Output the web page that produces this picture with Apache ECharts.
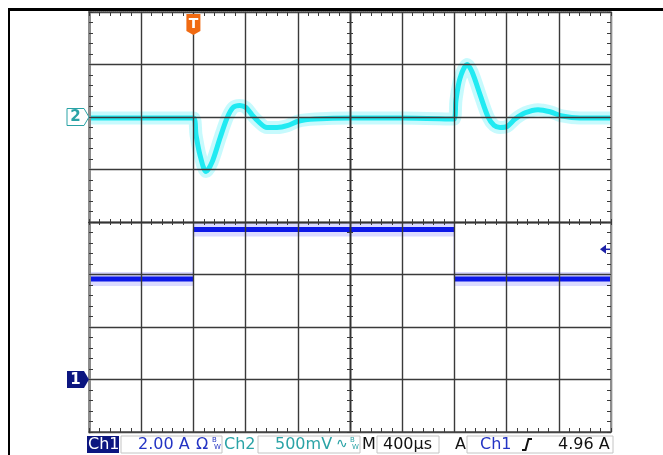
<!DOCTYPE html>
<html>
<head>
<meta charset="utf-8">
<script src="https://cdn.jsdelivr.net/npm/echarts@6/dist/echarts.min.js"></script>
<style>
  html, body { margin: 0; padding: 0; background: #fff; }
  #scope { width: 663px; height: 455px; }
</style>
</head>
<body>
<div id="scope"></div>
<script>
// Channel 2 (voltage, 500 mV/div): time in µs relative to trigger, value in V
const ch2Times = [-800, 0, 20, 50, 97, 143, 204, 258, 304, 357,
                  403, 449, 495, 564, 641, 725, 802, 932, 1200, 1600,
                  1997, 2012, 2043, 2097, 2135, 2197, 2258, 2304, 2350, 2404,
                  2465, 2542, 2641, 2733, 2825, 2963, 3200];
const ch2Volts = [-0.01, -0.01, -0.17, -0.36, -0.52, -0.43, -0.20, -0.01, 0.09, 0.11,
                  0.09, 0.02, -0.04, -0.10, -0.10, -0.08, -0.04, -0.02, -0.01, -0.01,
                  -0.02, 0.16, 0.37, 0.50, 0.43, 0.21, 0.00, -0.08, -0.10, -0.09,
                  -0.02, 0.04, 0.07, 0.05, 0.01, -0.01, -0.01];

// Channel 1 (current, 2.00 A/div): step pulse
const ch1Times = [-800, 0, 0, 2000, 2000, 3200];
const ch1Amps  = [3.83, 3.83, 5.71, 5.71, 3.83, 3.83];

// Trigger settings
const triggerTime = 0;      // µs
const triggerLevel = 4.96;  // A

// Status bar readouts
const ch1Scale = '2.00 A';
const ch2Scale = '500mV';
const timeScale = '400\u00b5s';
const trigReadout = '4.96 A';

const FONT = '"DejaVu Sans", "Liberation Sans", sans-serif';
const NAVY = '#0c1680';
const TEAL = '#2aa3a6';
const BLUE = '#2434c4';

const ch2Data = ch2Times.map((t, i) => [t, ch2Volts[i]]);
const ch1Full = ch1Times.map((t, i) => [t, ch1Amps[i]]);
// flat levels only: break the line where the step jumps
const ch1Levels = [];
ch1Times.forEach((t, i) => {
  if (i > 0 && t === ch1Times[i - 1]) ch1Levels.push([t, '-']);
  ch1Levels.push([t, ch1Amps[i]]);
});

const tickStyle = { color: '#3a3a3a', width: 1 };
function frameX(position, extra) {
  return Object.assign({
    type: 'value', min: -800, max: 3200, interval: 400, position: position, z: 3,
    axisLabel: { show: false },
    axisTick: { show: true, inside: true, length: 4, lineStyle: tickStyle },
    minorTick: { show: true, splitNumber: 5, length: 4, lineStyle: tickStyle },
    splitLine: { show: false }
  }, extra);
}
function frameY(position, min, max, interval, extra) {
  return Object.assign({
    type: 'value', min: min, max: max, interval: interval, position: position, z: 3,
    axisLabel: { show: false },
    axisTick: { show: true, inside: true, length: 4, lineStyle: tickStyle },
    minorTick: { show: true, splitNumber: 5, length: 4, lineStyle: tickStyle },
    splitLine: { show: false }
  }, extra);
}

const chart = echarts.init(document.getElementById('scope'), null, { renderer: 'canvas' });

chart.setOption({
  animation: false,
  backgroundColor: '#ffffff',
  grid: { left: 89, top: 12, width: 522, height: 420, containLabel: false },
  xAxis: [
    frameX('bottom', {
      axisLine: { onZero: false, lineStyle: { color: '#4a4a4a', width: 1.5 } },
      splitLine: { show: true, lineStyle: { color: '#3a3a3a', width: 1.4 } }
    }),
    frameX('top', {
      axisLine: { onZero: false, lineStyle: { color: '#4a4a4a', width: 1.5, type: [1, 1] } }
    }),
    // centre horizontal graticule line, ticks both sides
    frameX('bottom', {
      axisLine: { onZero: true, onZeroAxisIndex: 2, lineStyle: { color: '#333', width: 1.4 } },
      axisTick: { show: true, inside: true, length: 3, lineStyle: tickStyle },
      minorTick: { show: true, splitNumber: 5, length: 3, lineStyle: tickStyle }
    }),
    frameX('bottom', {
      axisLine: { onZero: true, onZeroAxisIndex: 2, lineStyle: { color: '#333', width: 1.4 } },
      axisTick: { show: true, inside: false, length: 3, lineStyle: tickStyle },
      minorTick: { show: true, splitNumber: 5, length: 3, lineStyle: tickStyle }
    }),
    { type: 'value', min: -5, max: 5, show: false }
  ],
  yAxis: [
    frameY('left', -3, 1, 0.5, {
      axisLine: { onZero: false, lineStyle: { color: '#8c8c8c', width: 3 } },
      splitLine: { show: true, lineStyle: { color: '#3a3a3a', width: 1.4 } }
    }),
    frameY('right', -2, 14, 2, {
      axisLine: { onZero: false, lineStyle: { color: '#8c8c8c', width: 2 } }
    }),
    { type: 'value', min: -4, max: 4, show: false },
    // centre vertical graticule line, ticks both sides
    frameY('left', -4, 4, 1, {
      axisLine: { onZero: true, onZeroAxisIndex: 4, lineStyle: { color: '#333', width: 1.4 } },
      axisTick: { show: true, inside: true, length: 3, lineStyle: tickStyle },
      minorTick: { show: true, splitNumber: 5, length: 3, lineStyle: tickStyle }
    }),
    frameY('left', -4, 4, 1, {
      axisLine: { onZero: true, onZeroAxisIndex: 4, lineStyle: { color: '#333', width: 1.4 } },
      axisTick: { show: true, inside: false, length: 3, lineStyle: tickStyle },
      minorTick: { show: true, splitNumber: 5, length: 3, lineStyle: tickStyle }
    })
  ],
  series: [
    { name: 'ch2 band', type: 'line', xAxisIndex: 0, yAxisIndex: 0, data: ch2Data,
      showSymbol: false, smooth: 0.3, z: 2,
      lineStyle: { color: 'rgba(70,240,250,0.3)', width: 13 } },
    { name: 'ch2', type: 'line', xAxisIndex: 0, yAxisIndex: 0, data: ch2Data,
      showSymbol: false, smooth: 0.3, z: 2,
      lineStyle: { color: '#20eaf2', width: 5 } },
    { name: 'ch1 edge', type: 'line', xAxisIndex: 0, yAxisIndex: 1, data: ch1Full,
      showSymbol: false, z: 2,
      lineStyle: { color: 'rgba(90,90,255,0.6)', width: 1.2 } },
    { name: 'ch1 band', type: 'line', xAxisIndex: 0, yAxisIndex: 1, data: ch1Levels,
      showSymbol: false, z: 2,
      lineStyle: { color: 'rgba(90,90,255,0.22)', width: 14 } },
    { name: 'ch1', type: 'line', xAxisIndex: 0, yAxisIndex: 1, data: ch1Levels,
      showSymbol: false, z: 2,
      lineStyle: { color: '#0c18e8', width: 5 } }
  ]
});

// Markers positioned from the axes' own scales
const tx = chart.convertToPixel({ xAxisIndex: 0 }, triggerTime);
const y2 = chart.convertToPixel({ yAxisIndex: 0 }, 0);
const y1 = chart.convertToPixel({ yAxisIndex: 1 }, 0);
const yTrig = chart.convertToPixel({ yAxisIndex: 1 }, triggerLevel);
const gLeft = 89, gRight = 611, gTop = 12;

function groundTag(y, label, fill, stroke, color) {
  return [
    { type: 'polygon', z: 10,
      shape: { points: [[gLeft - 22, y - 8.5], [gLeft - 5, y - 8.5], [gLeft, y], [gLeft - 5, y + 8.5], [gLeft - 22, y + 8.5]] },
      style: { fill: fill, stroke: stroke, lineWidth: stroke ? 1 : 0 } },
    { type: 'text', z: 11, x: gLeft - 13.5, y: y + 0.5,
      style: { text: label, fill: color, font: 'bold 15px ' + FONT, textAlign: 'center', textVerticalAlign: 'middle' } }
  ];
}

function txt(x, text, color, size, extra) {
  return Object.assign({ type: 'text', z: 11, x: x, y: 444.5,
    style: { text: text, fill: color, font: (size || 16) + 'px ' + FONT, textVerticalAlign: 'middle', textAlign: 'left' } }, extra || {});
}
function box(x, w) {
  return { type: 'rect', z: 10, shape: { x: x, y: 436, width: w, height: 17 },
    style: { fill: '#fff', stroke: '#c4c4c4', lineWidth: 1 } };
}

const graphics = [
  // outer frame
  { type: 'line', z: 10, shape: { x1: 8, y1: 9.5, x2: 663, y2: 9.5 }, style: { stroke: '#000', lineWidth: 3 } },
  { type: 'line', z: 10, shape: { x1: 9, y1: 8, x2: 9, y2: 455 }, style: { stroke: '#000', lineWidth: 2 } },
  // trigger position marker
  { type: 'polygon', z: 10,
    shape: { points: [[tx - 7, gTop + 2], [tx + 7, gTop + 2], [tx + 7, gTop + 19], [tx, gTop + 23], [tx - 7, gTop + 19]] },
    style: { fill: '#f06a12' } },
  { type: 'text', z: 11, x: tx, y: gTop + 12,
    style: { text: 'T', fill: '#fff', font: 'bold 14px ' + FONT, textAlign: 'center', textVerticalAlign: 'middle' } },
  // trigger level arrow
  { type: 'polygon', z: 10,
    shape: { points: [[gRight - 11, yTrig], [gRight - 5, yTrig - 4.5], [gRight - 5, yTrig + 4.5]] },
    style: { fill: '#1c20a8' } },
  { type: 'line', z: 10, shape: { x1: gRight - 6, y1: yTrig, x2: gRight - 1, y2: yTrig },
    style: { stroke: '#1c20a8', lineWidth: 1.5 } },
  // status bar
  { type: 'rect', z: 10, shape: { x: 87, y: 436, width: 32, height: 17 }, style: { fill: NAVY } },
  txt(88, 'Ch1', '#fff'),
  box(121, 101),
  txt(138, ch1Scale, BLUE),
  txt(196, '\u03a9', BLUE, 16),
  txt(212, 'B', BLUE, 7, { y: 440 }),
  txt(214, 'W', BLUE, 7, { y: 447 }),
  txt(224, 'Ch2', TEAL),
  box(258, 102),
  txt(275, ch2Scale, TEAL),
  txt(336, '\u223f', TEAL, 14),
  txt(350, 'B', TEAL, 7, { y: 440 }),
  txt(352, 'W', TEAL, 7, { y: 447 }),
  txt(362, 'M', '#111'),
  box(377, 62),
  txt(383, timeScale, '#111'),
  txt(455, 'A', '#111'),
  box(467, 146),
  txt(480, 'Ch1', BLUE),
  { type: 'polyline', z: 11, shape: { points: [[522, 450], [525.5, 450], [528.5, 439], [532, 439]] },
    style: { stroke: '#111', lineWidth: 2, fill: null } },
  txt(558, trigReadout, '#111')
].concat(groundTag(y2, '2', '#ffffff', TEAL, TEAL))
 .concat(groundTag(y1, '1', NAVY, null, '#ffffff'));

chart.setOption({ graphic: graphics });
</script>
</body>
</html>
